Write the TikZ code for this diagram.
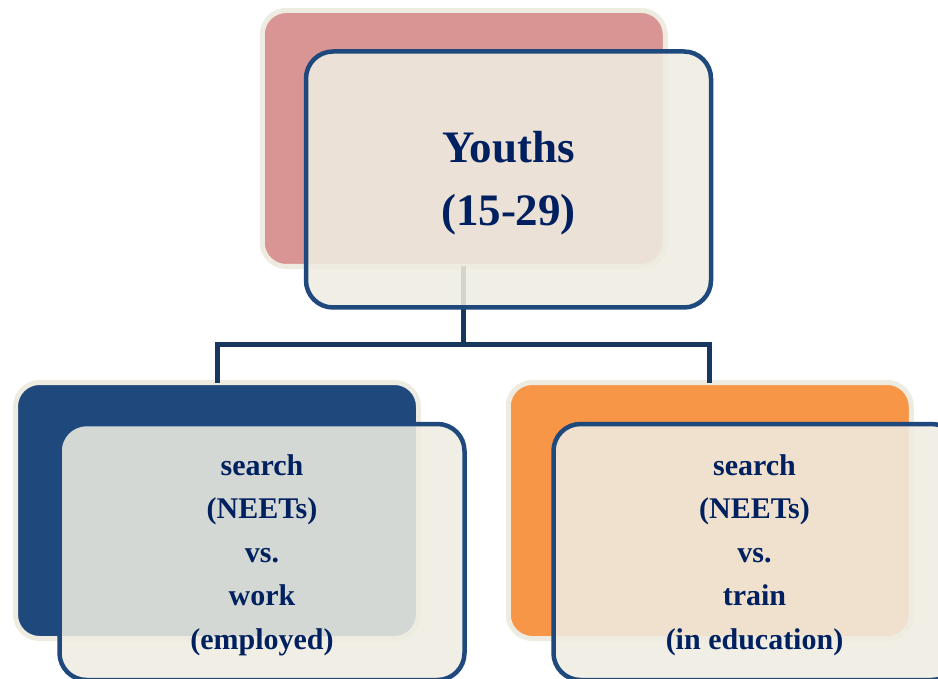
\documentclass[tikz,border=0pt]{standalone}
\usepackage{fontspec}
\setmainfont{Liberation Serif}
\definecolor{pinkback}{HTML}{D99594}
\definecolor{blueback}{HTML}{1F497D}
\definecolor{orangeback}{HTML}{F79646}
\definecolor{creamline}{HTML}{EEECE1}
\definecolor{creamfill}{HTML}{EEECE1}
\definecolor{frontline}{HTML}{1F497D}
\definecolor{connblue}{HTML}{17375E}
\definecolor{navytext}{HTML}{002060}
\tikzset{
  backbox/.style={rectangle, rounded corners=24pt, draw=creamline, line width=5pt,
    minimum width=403pt, minimum height=256pt, outer sep=0pt, inner sep=0pt},
  frontbox/.style={rectangle, rounded corners=27pt, draw=frontline, line width=4.5pt,
    fill=creamfill, fill opacity=0.88, draw opacity=1,
    minimum width=405pt, minimum height=256pt, outer sep=0pt, inner sep=0pt},
  conn/.style={draw=connblue, line width=5pt},
  bigtext/.style={font=\bfseries\fontsize{45}{63}\selectfont, text=navytext,
    align=center, inner sep=0pt},
  smalltext/.style={font=\bfseries\fontsize{30}{43.5}\selectfont, text=navytext,
    align=center, inner sep=0pt}
}
\begin{document}
\begin{tikzpicture}[x=1pt,y=-1pt]
\useasboundingbox (0,0) rectangle (938,679);
\clip (0,0) rectangle (938,679);
% back boxes
\node[backbox, fill=pinkback] (tb) at (463.75,138.5) {};
\node[backbox, fill=blueback] (lb) at (217,510.5) {};
\node[backbox, fill=orangeback] (rb) at (709.75,510.5) {};
% connectors
\coordinate (j) at (463.75,345);
\draw[conn] (tb.south) -- (j);
\draw[conn] (j) -| (lb.north);
\draw[conn] (j) -| (rb.north);
% front boxes
\node[frontbox] (tf) at (508.5,179.5) {};
\node[frontbox] (lf) at (262,552) {};
\node[frontbox] (rf) at (756,552) {};
% texts
\node[bigtext] (tt) at ([yshift=-4pt]tf.center) {Youths\\(15-29)};
\node[smalltext] (lt) at ([yshift=-3pt]lf.center) {search\\(NEETs)\\vs.\\work\\(employed)};
\node[smalltext] (rt) at ([xshift=-1.5pt,yshift=-3pt]rf.center) {search\\(NEETs)\\vs.\\train\\(in education)};
\end{tikzpicture}
\end{document}
